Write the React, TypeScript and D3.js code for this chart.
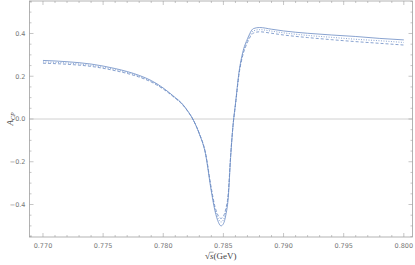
import React from "react";
import * as d3 from "d3";

// sqrt(s) in GeV
const sValues = [
  0.77, 0.772, 0.774, 0.776, 0.777, 0.778, 0.779, 0.78, 0.781, 0.7815, 0.782, 0.7825,
  0.783, 0.7835, 0.784, 0.7843, 0.7846, 0.7848, 0.785, 0.7852, 0.7854, 0.7856, 0.7858,
  0.786, 0.7863, 0.7866, 0.787, 0.7875, 0.788, 0.789, 0.79, 0.792, 0.794, 0.796, 0.798, 0.8,
];

const acpSolid = [
  0.274, 0.268, 0.257, 0.236, 0.222, 0.204, 0.18, 0.145, 0.1, 0.076, 0.04, -0.005,
  -0.07, -0.16, -0.34, -0.43, -0.485, -0.5, -0.49, -0.45, -0.37, -0.18, -0.03,
  0.07, 0.22, 0.31, 0.375, 0.423, 0.428, 0.42, 0.412, 0.401, 0.393, 0.386, 0.377, 0.37,
];

const acpDotted = [
  0.267, 0.262, 0.251, 0.231, 0.218, 0.2, 0.176, 0.142, 0.098, 0.074, 0.04, -0.005,
  -0.069, -0.158, -0.333, -0.42, -0.47, -0.482, -0.472, -0.435, -0.36, -0.175, -0.03,
  0.067, 0.215, 0.302, 0.366, 0.412, 0.418, 0.411, 0.403, 0.391, 0.382, 0.373, 0.366, 0.358,
];

const acpDashed = [
  0.261, 0.256, 0.246, 0.226, 0.213, 0.196, 0.173, 0.14, 0.097, 0.073, 0.039, -0.005,
  -0.068, -0.155, -0.325, -0.41, -0.455, -0.465, -0.455, -0.42, -0.35, -0.17, -0.03,
  0.065, 0.21, 0.295, 0.358, 0.402, 0.408, 0.401, 0.393, 0.381, 0.371, 0.362, 0.354, 0.346,
];

const xMajor = [0.77, 0.775, 0.78, 0.785, 0.79, 0.795, 0.8];
const yMajor = [-0.4, -0.2, 0, 0.2, 0.4];

const W = 415, H = 265;
const left = 29.5, right = 412.5, top = 1, bottom = 237;

const lineColor = "#6b8cc4";
const frameColor = "#a0a0a0";
const textColor = "#777";

export default function App() {
  const x = d3.scaleLinear().domain([0.76888, 0.80072]).range([left, right]);
  const y = d3.scaleLinear().domain([-0.552, 0.552]).range([bottom, top]);

  const line = (vals: number[]) =>
    d3.line<number>()
      .x((_, i) => x(sValues[i]))
      .y(d => y(d))
      .curve(d3.curveMonotoneX)(vals) as string;

  const xMinor = d3.range(0, 32).map(i => 0.769 + i * 0.001)
    .filter(v => v >= 0.7689 && v <= 0.8007 && !xMajor.some(m => Math.abs(m - v) < 1e-6));
  const yMinor = d3.range(-0.55, 0.551, 0.05)
    .filter(v => !yMajor.some(m => Math.abs(m - v) < 1e-6) && Math.abs(v) <= 0.552);

  return (
    <svg width={W} height={H} style={{ position: "absolute", left: 0, top: 0 }}
      fontFamily="'DejaVu Sans', sans-serif">
      <defs>
        <clipPath id="plot">
          <rect x={left} y={top} width={right - left} height={bottom - top} />
        </clipPath>
      </defs>
      {/* zero axis */}
      <line x1={left} x2={right} y1={y(0)} y2={y(0)} stroke="#c4c4c4" strokeWidth={0.8} />

      <g clipPath="url(#plot)" fill="none" stroke={lineColor} strokeWidth={0.8}>
        <path d={line(acpSolid)} />
        <path d={line(acpDotted)} strokeDasharray="1,1.5" />
        <path d={line(acpDashed)} strokeDasharray="3,2" />
      </g>

      {/* frame */}
      <rect x={left} y={top} width={right - left} height={bottom - top}
        fill="none" stroke={frameColor} strokeWidth={0.8} />

      <g stroke={frameColor} strokeWidth={0.6}>
        {xMajor.map(v => (
          <g key={"xM" + v}>
            <line x1={x(v)} x2={x(v)} y1={bottom} y2={bottom - 4} />
            <line x1={x(v)} x2={x(v)} y1={top} y2={top + 4} />
          </g>
        ))}
        {xMinor.map(v => (
          <g key={"xm" + v}>
            <line x1={x(v)} x2={x(v)} y1={bottom} y2={bottom - 2} />
            <line x1={x(v)} x2={x(v)} y1={top} y2={top + 2} />
          </g>
        ))}
        {yMajor.map(v => (
          <g key={"yM" + v}>
            <line x1={left} x2={left + 4} y1={y(v)} y2={y(v)} />
            <line x1={right} x2={right - 4} y1={y(v)} y2={y(v)} />
          </g>
        ))}
        {yMinor.map(v => (
          <g key={"ym" + v}>
            <line x1={left} x2={left + 2} y1={y(v)} y2={y(v)} />
            <line x1={right} x2={right - 2} y1={y(v)} y2={y(v)} />
          </g>
        ))}
      </g>

      <g fill={textColor} fontSize={6.5}>
        {xMajor.map(v => (
          <text key={"xl" + v} x={x(v)} y={bottom + 11} textAnchor="middle">
            {d3.format(".3f")(v)}
          </text>
        ))}
        {yMajor.map(v => (
          <text key={"yl" + v} x={left - 4} y={y(v) + 2.3} textAnchor="end">
            {v === 0 ? "0.0" : d3.format(".1f")(v).replace("-", "\u2212")}
          </text>
        ))}
      </g>

      <text x={205} y={258.5} fontFamily="'Liberation Serif', serif" fontSize={9} fill="#444">
        √<tspan fontStyle="italic">s</tspan>(GeV)
      </text>
      <line x1={209.6} x2={213.6} y1={252.2} y2={252.2} stroke="#444" strokeWidth={0.5} />
      <text transform={`translate(13,${y(0)}) rotate(-90)`} textAnchor="middle"
        fontFamily="'Liberation Serif', serif" fontSize={9} fill="#444">
        <tspan fontStyle="italic">A</tspan>
        <tspan fontSize={6} dy={2} fontStyle="italic">CP</tspan>
      </text>
    </svg>
  );
}
